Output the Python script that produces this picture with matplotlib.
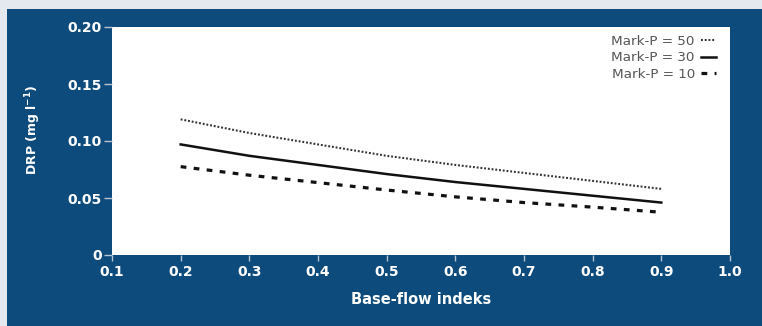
import matplotlib.pyplot as plt
from matplotlib.patches import Rectangle

# DRP concentration against base-flow index for three Mark-P levels
bfi = [0.2, 0.3, 0.4, 0.5, 0.6, 0.7, 0.8, 0.9]
drp_p50 = [0.119, 0.107, 0.097, 0.087, 0.079, 0.072, 0.065, 0.058]
drp_p30 = [0.097, 0.087, 0.079, 0.071, 0.064, 0.058, 0.052, 0.046]
drp_p10 = [0.0775, 0.070, 0.0635, 0.057, 0.051, 0.046, 0.042, 0.0375]

legend_labels = ["Mark-P = 50", "Mark-P = 30", "Mark-P = 10"]
x_ticks = [0.1, 0.2, 0.3, 0.4, 0.5, 0.6, 0.7, 0.8, 0.9, 1.0]
y_ticks = [0, 0.05, 0.10, 0.15, 0.20]
y_ticklabels = ["0", "0.05", "0.10", "0.15", "0.20"]

navy = "#0d4b7c"
plt.rcParams["font.family"] = ["DejaVu Sans"]
plt.rcParams["mathtext.default"] = "regular"

fig = plt.figure(figsize=(7.62, 3.26), dpi=100, facecolor="#e3e9ef")
fig.patches.append(Rectangle((7 / 762, 0), 1, 1 - 9 / 326, transform=fig.transFigure,
                             facecolor=navy, edgecolor="none", zorder=-1))

ax = fig.add_axes([112 / 762, 1 - 255 / 326, 618 / 762, 228 / 326])
ax.set_facecolor("white")

l50, = ax.plot(bfi, drp_p50, color="#333333", lw=1.5, linestyle=(0, (0.9, 0.9)))
l30, = ax.plot(bfi, drp_p30, color="#111111", lw=1.8, linestyle="-")
l10, = ax.plot(bfi, drp_p10, color="#111111", lw=2.3, linestyle=(0, (1.8, 2.3)))

ax.set_xlim(0.1, 1.0)
ax.set_ylim(0, 0.20)
ax.set_xticks(x_ticks)
ax.set_xticklabels([f"{t:.1f}" for t in x_ticks])
ax.set_yticks(y_ticks)
ax.set_yticklabels(y_ticklabels)

for s in ax.spines.values():
    s.set_visible(False)
ax.tick_params(colors="#b8c4d0", width=1, direction="out")
ax.tick_params(axis="x", length=4, pad=3)
ax.tick_params(axis="y", length=6, pad=1.5)
for lab in ax.get_xticklabels() + ax.get_yticklabels():
    lab.set_color("white")
    lab.set_fontweight("bold")
    lab.set_fontsize(10)

ax.set_xlabel("Base-flow indeks", color="white", fontweight="bold", fontsize=10.5)
ax.xaxis.set_label_coords(0.5, -0.162)
ax.set_ylabel("DRP (mg l$^{-1}$)", color="white", fontweight="bold", fontsize=9)
ax.yaxis.set_label_coords(-0.112, 0.55)

leg = ax.legend([l50, l30, l10], legend_labels, loc="upper right", frameon=False,
                markerfirst=False, fontsize=9.7, handlelength=1.1, handletextpad=0.45,
                labelspacing=0.25, borderaxespad=0.2, bbox_to_anchor=(0.99, 1.0))
for t in leg.get_texts():
    t.set_color("#555555")

fig.savefig("out.png", dpi=100, facecolor=fig.get_facecolor())
